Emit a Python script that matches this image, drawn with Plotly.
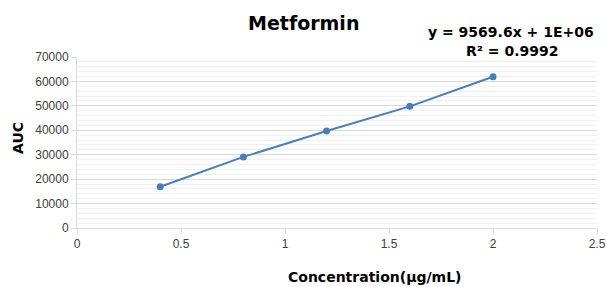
import plotly.graph_objects as go

conc = [0.4, 0.8, 1.2, 1.6, 2.0]
auc = [16900, 29100, 39700, 49800, 61900]
x_ticks = [0, 0.5, 1, 1.5, 2, 2.5]
x_tick_text = ["0", "0.5", "1", "1.5", "2", "2.5"]
y_ticks = [0, 10000, 20000, 30000, 40000, 50000, 60000, 70000]

PL, PR, PT, PB = 77, 597, 57, 228  # plot area in window pixels
W, H = 607, 287

fig = go.Figure()
fig.add_trace(go.Scatter(
    x=conc, y=auc, mode="lines+markers",
    line=dict(color="#4A7EBB", width=2),
    marker=dict(color="#4A7EBB", size=7),
    showlegend=False,
))

tickfont = dict(family="Liberation Sans, Arial", size=12, color="#404040")
fig.update_layout(
    width=W, height=H,
    margin=dict(l=PL, r=W - PR, t=PT, b=H - PB, autoexpand=False),
    paper_bgcolor="white", plot_bgcolor="white",
    xaxis=dict(range=[0, 2.5], tickvals=x_ticks, ticktext=x_tick_text,
               showgrid=False, showline=True, linecolor="#D9D9D9", linewidth=1,
               ticks="outside", ticklen=5, tickcolor="#D9D9D9",
               tickfont=tickfont, zeroline=False, ticklabeloverflow="allow"),
    yaxis=dict(range=[0, 70000], tickvals=y_ticks, showgrid=True,
               gridcolor="#D9D9D9", gridwidth=1,
               minor=dict(dtick=2000, showgrid=True, gridcolor="#F0F0F0", gridwidth=1),
               showline=True, linecolor="#D9D9D9", linewidth=1,
               ticks="outside", ticklen=5, tickcolor="#D9D9D9",
               tickfont=tickfont, zeroline=False, tickformat="d"),
)

pw, ph = PR - PL, PB - PT
def px(x):
    return (x - PL) / pw
def py(y):
    return (PB - y) / ph

bold = dict(family="DejaVu Sans", color="black")
fig.add_annotation(text="<b>Metformin</b>", xref="paper", yref="paper",
                   x=px(303), y=py(23), showarrow=False,
                   font=dict(size=19, **bold), xanchor="center", yanchor="middle")
fig.add_annotation(text="<b>y = 9569.6x + 1E+06</b>", xref="paper", yref="paper",
                   x=px(511), y=py(32), showarrow=False,
                   font=dict(size=14, **bold), xanchor="center", yanchor="middle")
fig.add_annotation(text="<b>R² = 0.9992</b>", xref="paper", yref="paper",
                   x=px(512), y=py(51), showarrow=False,
                   font=dict(size=14, **bold), xanchor="center", yanchor="middle")
fig.add_annotation(text="<b>AUC</b>", xref="paper", yref="paper",
                   x=px(18), y=py(138), showarrow=False,
                   textangle=-90, font=dict(size=14, **bold),
                   xanchor="center", yanchor="middle")
fig.add_annotation(text="<b>Concentration(μg/mL)</b>", xref="paper", yref="paper",
                   x=px(374), y=py(277), showarrow=False,
                   font=dict(size=14, **bold), xanchor="center", yanchor="middle")

fig.write_html("out.html", config={"displayModeBar": False},
               post_script="document.body.style.margin='0';")
